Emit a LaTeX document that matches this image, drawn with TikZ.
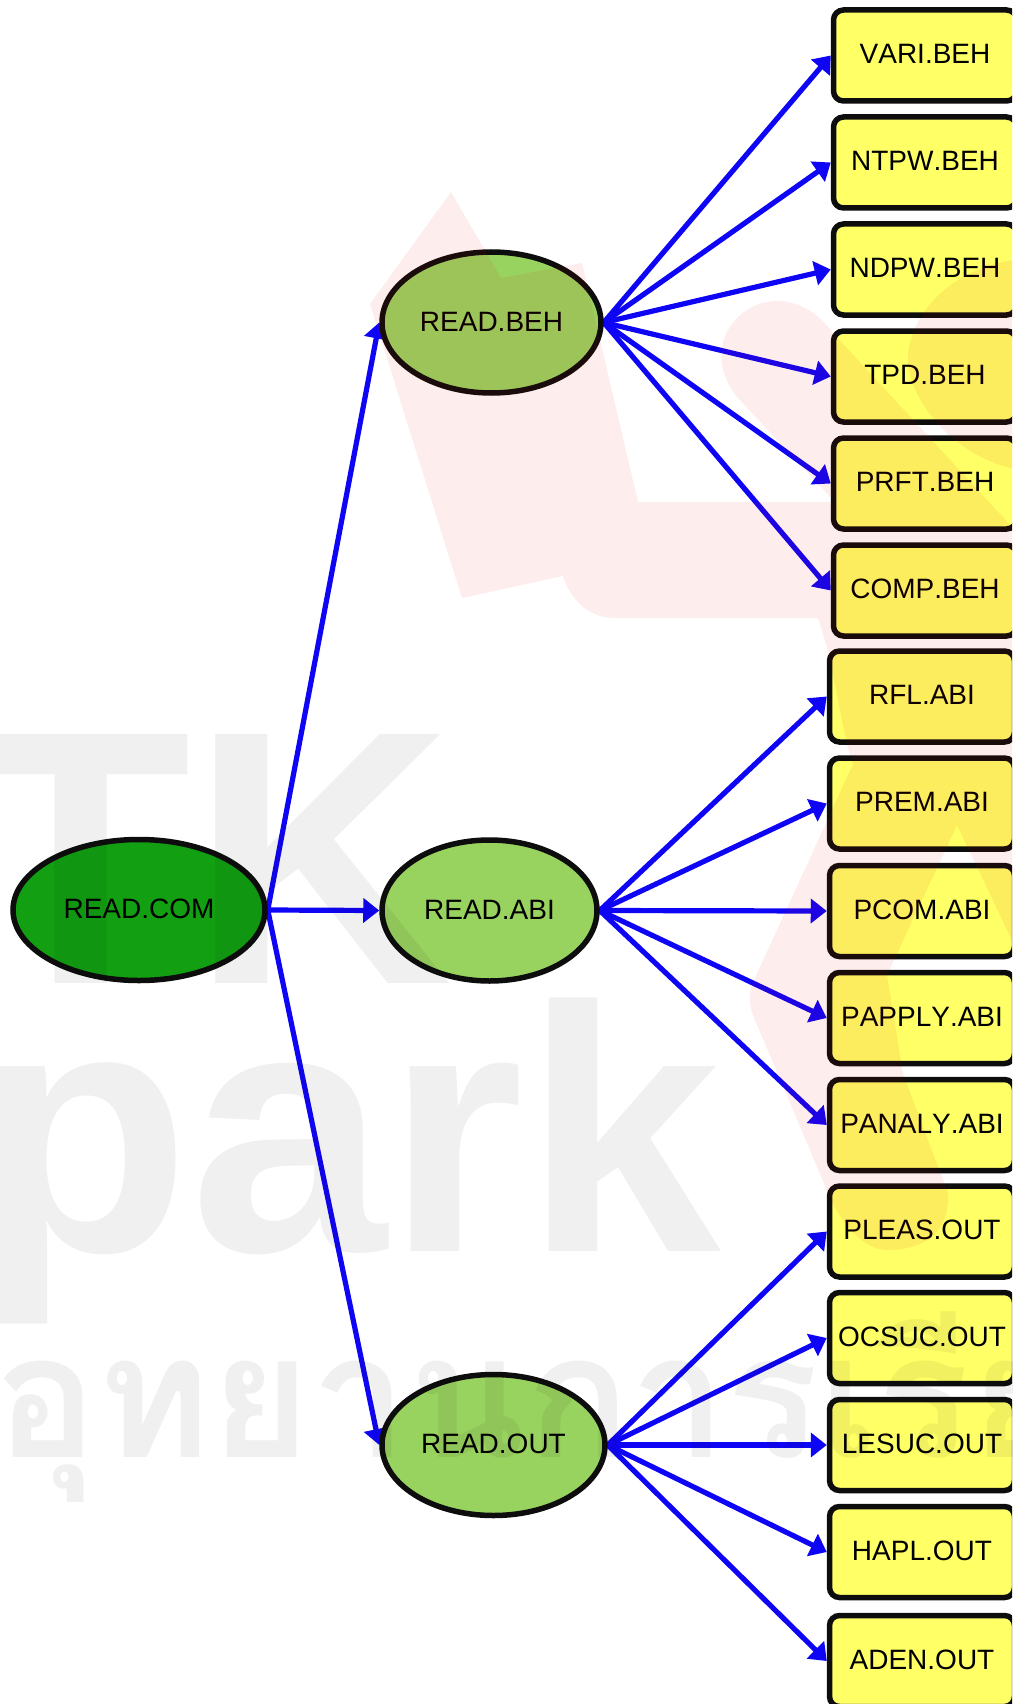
\documentclass[tikz,border=0pt]{standalone}
\usepackage{fontspec}
\setmainfont[Kerning=Off]{Liberation Sans}
\newfontfamily\thaifont[Script=Thai]{Loma}
\usetikzlibrary{arrows.meta,shapes.geometric,backgrounds}
\definecolor{rootgreen}{RGB}{18,160,18}
\definecolor{midgreen}{RGB}{153,211,95}
\definecolor{leafyellow}{RGB}{255,255,102}
\definecolor{linkblue}{RGB}{15,5,245}
\definecolor{logored}{RGB}{220,0,0}
\tikzset{
    blob/.style={ellipse,draw=black!95,line width=5.5pt,inner sep=0pt,minimum height=141pt,text depth=2pt,font=\fontsize{28}{32}\selectfont},
    leaf/.style={rectangle,rounded corners=10pt,draw=black!95,fill=leafyellow,line width=5.5pt,inner sep=0pt,minimum height=91pt,text depth=3pt,font=\fontsize{28}{32}\selectfont},
    behleaf/.style={leaf,minimum width=183pt},
    otherleaf/.style={leaf,minimum width=185pt},
    link/.style={draw=linkblue,line width=5.2pt,-{Triangle[length=16pt,width=24pt]}},
    logopart/.style={fill=logored,opacity=.07},
    letters/.style={inner sep=0pt,text=black,text opacity=.06,font=\bfseries\fontsize{#1}{#1}\selectfont}
}
\begin{document}
\begin{tikzpicture}[x=1pt,y=-1pt]
    \useasboundingbox (0,0) rectangle (1012,1704);
    \clip (0,0) rectangle (1012,1704);

    \node[blob,fill=rootgreen,minimum width=252pt] (com) at (139,910) {READ.COM};
    \node[blob,fill=midgreen,minimum width=219pt] (beh) at (491.5,322.5) {READ.BEH};
    \node[blob,fill=midgreen,minimum width=215pt] (abi) at (489.5,910.5) {READ.ABI};
    \node[blob,fill=midgreen,minimum width=223pt] (out) at (493.5,1445) {READ.OUT};

    \node[behleaf] (vari) at (925,55.5) {VARI.BEH};
    \node[behleaf] (ntpw) at (925,162.5) {NTPW.BEH};
    \node[behleaf] (ndpw) at (925,269.5) {NDPW.BEH};
    \node[behleaf] (tpd) at (925,376.5) {TPD.BEH};
    \node[behleaf] (prft) at (925,483.5) {PRFT.BEH};
    \node[behleaf] (comp) at (925,590.5) {COMP.BEH};

    \node[otherleaf] (rfl) at (922,696.5) {RFL.ABI};
    \node[otherleaf] (prem) at (922,803.5) {PREM.ABI};
    \node[otherleaf] (pcom) at (922,911) {PCOM.ABI};
    \node[otherleaf] (papply) at (922,1018) {PAPPLY.ABI};
    \node[otherleaf] (panaly) at (922,1125) {PANALY.ABI};

    \node[otherleaf] (pleas) at (922,1231.5) {PLEAS.OUT};
    \node[otherleaf] (ocsuc) at (922,1338) {OCSUC.OUT};
    \node[otherleaf] (lesuc) at (922,1445) {LESUC.OUT};
    \node[otherleaf] (hapl) at (922,1552) {HAPL.OUT};
    \node[otherleaf] (aden) at (922,1661) {ADEN.OUT};

    \begin{scope}[on background layer]
        \foreach \mid in {beh,abi,out} \draw[link] (com.east) -- (\mid.west);
        \foreach \name in {vari,ntpw,ndpw,tpd,prft,comp} \draw[link] (beh.east) -- (\name.west);
        \foreach \name in {rfl,prem,pcom,papply,panaly} \draw[link] (abi.east) -- (\name.west);
        \foreach \name in {pleas,ocsuc,lesuc,hapl,aden} \draw[link] (out.east) -- (\name.west);
    \end{scope}

    % watermark, laid over everything
    \node[letters=362,anchor=base west] (tk) at (-30,983) {TK};
    \node[letters=350,anchor=base west] (park) at (-26,1251) {\scalebox{1.01}[1]{park}};
    \node[letters=172,anchor=base west] (thai) at (-6,1457) {\thaifont อุทยานการเรียนรู้};

    \fill[logopart] (451,192) -- (501,278) -- (582,263) -- (638,502) -- (835,502)
        -- (737,397) .. controls (700,350) and (735,301) .. (777,301)
        .. controls (800,301) and (820,315) .. (833,333) -- (1012,527) -- (1040,527)
        -- (1040,999) -- (957,825) -- (887,975) -- (903,1074) -- (948,1193)
        .. controls (950,1240) and (915,1250) .. (887,1250)
        .. controls (860,1250) and (835,1215) .. (823,1181) -- (755,1020)
        .. controls (748,1005) and (748,990) .. (755,978) -- (853,764) -- (847,745)
        -- (828,650) -- (818,618) -- (614,618) .. controls (590,618) and (570,600) .. (563,576)
        -- (462,598) -- (370,304) -- cycle;
    \fill[logopart] (1040,258) .. controls (960,258) and (908,310) .. (908,360)
        .. controls (908,400) and (960,470) .. (1040,472) -- cycle;
\end{tikzpicture}
\end{document}
